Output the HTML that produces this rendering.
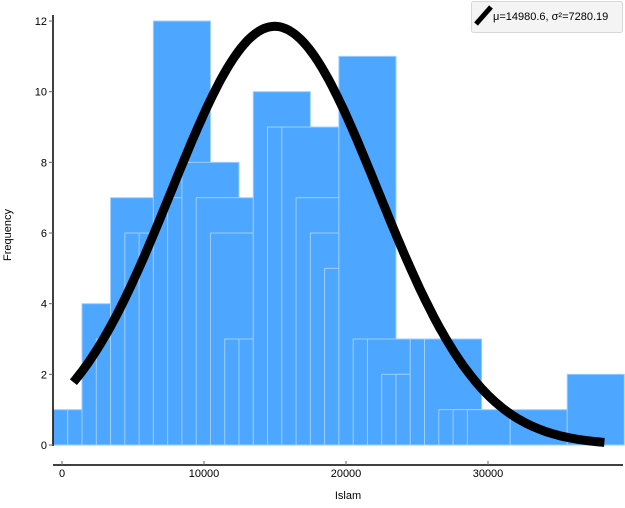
<!DOCTYPE html>
<html><head><meta charset="utf-8"><style>
body{margin:0;background:#fff;font-family:"Liberation Sans",sans-serif}
svg text{font-family:"Liberation Sans","DejaVu Sans",sans-serif;font-size:11px;fill:#000}
</style></head><body>
<svg id="chart" width="625" height="503" xmlns="http://www.w3.org/2000/svg">
<g id="bars"></g>
<path id="curve" fill="none" stroke="#000" stroke-width="9"/>
<line x1="53" y1="15" x2="53" y2="446" stroke="#000" stroke-width="1.5"/>
<line x1="53" y1="465" x2="623" y2="465" stroke="#000" stroke-width="1.5"/>
<g id="yticks"></g>
<g id="xticks"></g>
<text x="348" y="499" text-anchor="middle" font-size="11">Islam</text>
<text transform="translate(11,235) rotate(-90)" text-anchor="middle">Frequency</text>
<g>
<rect x="471.5" y="1.5" width="151" height="31" rx="2" fill="#f4f4f4" stroke="#d8d8d8"/>
<line x1="476" y1="24" x2="491" y2="7" stroke="#000" stroke-width="5"/>
<text x="493" y="20" font-size="11">μ=14980.6, σ²=7280.19</text>
</g>
</svg>
<script>
const binStart=[0,1,2,3,4,5,6,7,8,9,10,11,12,13,14,15,16,17,18,19,20,21,22,23,24,25,26,27,28,29,32,36];
const binEnd=[1,2,4,4,7,7,7,11,11,13,14,14,13,14,18,18,20,20,20,20,24,24,25,25,25,26,30,30,30,32,36,40];
const counts=[1,1,4,3,7,6,6,12,7,8,7,6,3,3,10,9,9,7,6,5,11,3,3,2,2,3,3,1,1,1,1,2];
const xTicks=[0,10000,20000,30000];
const yTicks=[0,2,4,6,8,10,12];
const mu=14980.6, sigma=7280.19, peak=11.85;
const binOrigin=-600, binWidth=1005;
const X=v=>62+v*0.0142;
const Y=v=>445-v*35.33;
const NS='http://www.w3.org/2000/svg';
const bars=document.getElementById('bars');
for(let i=0;i<counts.length;i++){
  const r=document.createElementNS(NS,'rect');
  const x0=X(binOrigin+binStart[i]*binWidth), x1=X(binOrigin+binEnd[i]*binWidth);
  r.setAttribute('x',x0);r.setAttribute('y',Y(counts[i]));
  r.setAttribute('width',x1-x0);r.setAttribute('height',Y(0)-Y(counts[i]));
  r.setAttribute('fill','#4da6ff');r.setAttribute('stroke','#9ccfff');r.setAttribute('stroke-width','1');
  
  
  bars.appendChild(r);
}
let d='';
for(let v=800;v<=38200;v+=200){
  const y=peak*Math.exp(-0.5*Math.pow((v-mu)/sigma,2));
  d+=(d?'L':'M')+X(v).toFixed(1)+','+Y(y).toFixed(1);
}
document.getElementById('curve').setAttribute('d',d);
const yt=document.getElementById('yticks');
yTicks.forEach(t=>{
  const l=document.createElementNS(NS,'line');
  l.setAttribute('x1',49);l.setAttribute('x2',53);l.setAttribute('y1',Y(t));l.setAttribute('y2',Y(t));
  l.setAttribute('stroke','#666');
  
  
  yt.appendChild(l);
  const tx=document.createElementNS(NS,'text');
  tx.setAttribute('x',47);tx.setAttribute('y',Y(t)+4);tx.setAttribute('text-anchor','end');
  tx.textContent=t;
  
  
  yt.appendChild(tx);
});
const xt=document.getElementById('xticks');
xTicks.forEach(t=>{
  const l=document.createElementNS(NS,'line');
  l.setAttribute('x1',X(t));l.setAttribute('x2',X(t));l.setAttribute('y1',461);l.setAttribute('y2',465);
  l.setAttribute('stroke','#666');
  
  
  xt.appendChild(l);
  const tx=document.createElementNS(NS,'text');
  tx.setAttribute('x',X(t));tx.setAttribute('y',477);tx.setAttribute('text-anchor','middle');
  tx.textContent=t;
  
  
  xt.appendChild(tx);
});
</script>
</body></html>
